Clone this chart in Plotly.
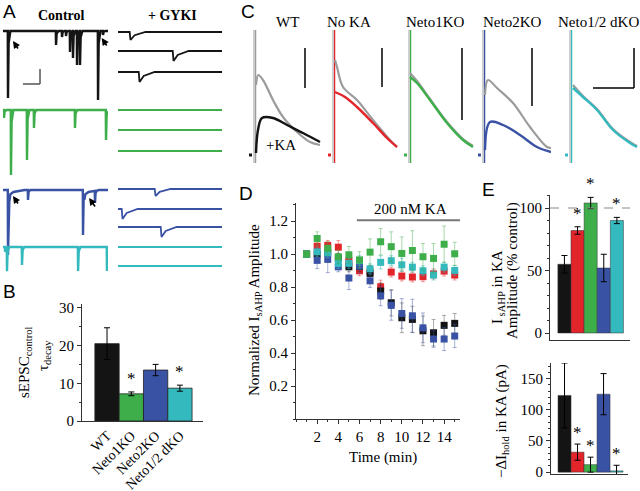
import numpy as np
import plotly.graph_objects as go

W, H = 640, 491
SERIF = "Liberation Serif"
SANS = "Liberation Sans"
BLACK, RED, GREEN, BLUE, CYAN, GRAY = "#141414", "#e2252b", "#3dae4a", "#3a52a3", "#34b9be", "#9c9c9c"

# ---------------- DATA ----------------
# Panel A: sEPSC sweeps, event times (s) and peak amplitudes (pA)
A_CTRL_COLORS = [BLACK, GREEN, BLUE, CYAN]
A_WT_T = [0.095, 1.01, 1.124, 1.2, 1.276, 1.333, 1.41, 1.467, 1.81, 1.905]
A_WT_AMP = [-134, -28, -12, -10, -42, -54, -68, -68, -138, -8]
A_N1_T = [0.019, 0.152, 0.457, 0.59, 1.371, 1.962]
A_N1_AMP = [-16, -130, -100, -36, -36, -60]
A_N2_T = [0.095, 0.476, 1.524, 1.752]
A_N2_AMP = [-130, -20, -90, -24]
A_N2_SLOW_T = [0.11, 1.54]
A_N2_SLOW_AMP = [-10, -10]
A_DKO_T = [0.04, 0.076, 0.362, 1.43, 1.98]
A_DKO_AMP = [-10, -48, -36, -48, -48]
A_GYKI_COLORS = [BLACK, BLACK, BLACK, GREEN, GREEN, GREEN, BLUE, BLUE, BLUE, CYAN, CYAN]
A_GYKI_EV_T = [0.23, 1.058, 0.404, None, None, None, 0.712, 0.077, 0.827, None, None]
A_GYKI_EV_AMP = [-16, -20, -20, 0, 0, 0, -14, -20, -20, 0, 0]

# Panel B
B_CATS = ["WT", "Neto1KO", "Neto2KO", "Neto1/2 dKO"]
B_VALS = [20.5, 7.2, 13.5, 8.7]
B_ERR = [4.2, 0.5, 1.5, 0.8]
B_SIG = [False, True, False, True]
B_COLORS = [BLACK, GREEN, BLUE, CYAN]

# Panel C: IsAHP traces (ms after stimulus, amplitude)
C_TITLES = ["WT", "No KA", "Neto1KO", "Neto2KO", "Neto1/2 dKO"]
C_COLORS = [BLACK, RED, GREEN, BLUE, CYAN]
C_CTRL_T = [[2, 4.3, 9, 19, 29, 43, 56, 66], [2, 4, 10, 24, 40, 57, 64], [1, 8, 21, 38, 54, 64],
            [2, 5, 14, 30, 47, 64, 68], [3, 13, 27, 43, 60, 67]]
C_CTRL_AMP = [[70, 80, 75, 55, 38, 23, 13, 10], [95, 88, 68, 55, 35, 15, 8], [82, 74, 56, 33, 16, 9],
              [60, 75, 67, 52, 28, 8, 7], [70, 59, 46, 26, 13, 9]]
C_KA_T = [[2, 4, 8, 19, 33, 49, 66], [2, 12, 24, 40, 54, 64], [1, 8, 21, 38, 54, 64],
          [2, 7, 20, 37, 54, 68], [3, 13, 27, 43, 60, 67]]
C_KA_AMP = [[2, 25, 37, 37, 30, 22, 13], [63, 58, 48, 32, 17, 8], [78, 72, 55, 32, 15, 8],
            [5, 33, 30, 20, 8, 3], [67, 58, 45, 25, 12, 8]]

# Panel D: normalized IsAHP amplitude over time
D_T = list(range(1, 16))
D_WT = [1.0, 1.0, 1.01, 0.975, 0.923, 0.925, 0.883, 0.776, 0.705, 0.614, 0.604, 0.535, 0.523, 0.568, 0.58]
D_WT_ERR = [0, 0.03, 0.03, 0.03, 0.03, 0.03, 0.04, 0.05, 0.08, 0.09, 0.08, 0.09, 0.08, 0.06, 0.06]
D_NOKA = [1.0, 1.048, 1.053, 1.042, 0.96, 0.899, 0.895, 0.802, 0.891, 0.867, 0.861, 0.863, 0.88, 0.897, 0.873]
D_NOKA_ERR = [0, 0.03, 0.03, 0.04, 0.04, 0.03, 0.03, 0.04, 0.03, 0.03, 0.03, 0.03, 0.03, 0.03, 0.03]
D_N1 = [1.0, 1.095, 1.035, 0.984, 0.996, 0.965, 1.012, 1.075, 1.045, 1.004, 1.022, 0.984, 0.974, 1.06, 1.002]
D_N1_ERR = [0, 0.04, 0.04, 0.04, 0.05, 0.05, 0.08, 0.08, 0.09, 0.1, 0.12, 0.08, 0.09, 0.11, 0.07]
D_N2 = [1.0, 0.962, 0.968, 0.923, 0.855, 0.927, 0.838, 0.747, 0.689, 0.64, 0.626, 0.553, 0.485, 0.485, 0.503]
D_N2_ERR = [0, 0.05, 0.08, 0.03, 0.07, 0.04, 0.04, 0.06, 0.09, 0.09, 0.1, 0.09, 0.05, 0.07, 0.07]
D_DKO = [1.0, 1.014, 1.008, 0.943, 0.944, 0.96, 0.911, 0.95, 0.96, 0.935, 0.921, 0.899, 0.873, 0.921, 0.901]
D_DKO_ERR = [0, 0.03, 0.03, 0.03, 0.03, 0.03, 0.03, 0.04, 0.03, 0.04, 0.03, 0.03, 0.03, 0.03, 0.03]
D_KA_START, D_KA_END = 5.75, 15.5

# Panel E
E_GROUPS = ["WT", "No KA", "Neto1KO", "Neto2KO", "Neto1/2 dKO"]
E_COLORS = [BLACK, RED, GREEN, BLUE, CYAN]
E_AMP = [55, 82, 104, 52, 90]
E_AMP_ERR = [7, 3, 4.5, 11, 2.5]
E_HOLD = [123, 32, 12, 125, 2]
E_HOLD_ERR = [52, 13, 12, 33, 9]
E_SIG = [False, True, True, False, True]

# ---------------- helpers ----------------
def xd(a, b): return [a / W, b / W]
def yd(top, bottom): return [1 - bottom / H, 1 - top / H]
def px(x): return x / W
def py(y): return 1 - y / H

FAST_DT, FAST_FR = [-0.004, 0.0, 0.012, 0.045], [0.0, 1.0, 0.18, 0.0]
SLOW_DT, SLOW_FR = [-0.006, 0.01, 0.09, 0.3], [0.0, 1.0, 0.4, 0.0]

def sweep(t_end, events):
    ts = {0.0, t_end}
    for t0, a, dt, fr in events:
        ts |= {t0 + d for d in dt}
    ts = sorted(t for t in ts if 0 <= t <= t_end)
    ys = [sum(a * np.interp(t - t0, dt, fr, left=0, right=0) for t0, a, dt, fr in events) for t in ts]
    return ts, ys

def label(x, y, text, size=15, family=SERIF, angle=0):
    return dict(x=px(x), y=py(y), xref="paper", yref="paper", text=text, showarrow=False,
                xanchor="center", yanchor="middle", textangle=angle,
                font=dict(family=family, size=size, color="black"))

fig = go.Figure()
layout = dict(width=W, height=H, margin=dict(l=0, r=0, t=0, b=0, autoexpand=False), paper_bgcolor="white",
              plot_bgcolor="rgba(0,0,0,0)", showlegend=False, template="none")
hid = dict(visible=False, showgrid=False, zeroline=False, fixedrange=True, automargin=False)
ax_common = dict(showgrid=False, zeroline=False, fixedrange=True, automargin=False, showline=True,
                 linecolor="#333", linewidth=1, tickcolor="#333")
shapes, ann = [], []

# ---- Panel A ----
layout["xaxis"] = dict(hid, domain=xd(3, 108), range=[0, 2], anchor="y")
layout["yaxis"] = dict(hid, domain=yd(0, 280), range=[-560, 0], anchor="x")
layout["xaxis2"] = dict(hid, domain=xd(118, 222), range=[0, 2], anchor="y2")
layout["yaxis2"] = dict(hid, domain=yd(0, 280), range=[-560, 0], anchor="x2")
A_CTRL_OFFSETS = [-62, -220, -380, -494]
ctrl_events = [
    [(t, a, FAST_DT, FAST_FR) for t, a in zip(A_WT_T, A_WT_AMP)],
    [(t, a, FAST_DT, FAST_FR) for t, a in zip(A_N1_T, A_N1_AMP)],
    [(t, a, FAST_DT, FAST_FR) for t, a in zip(A_N2_T, A_N2_AMP)]
    + [(t, a, SLOW_DT, SLOW_FR) for t, a in zip(A_N2_SLOW_T, A_N2_SLOW_AMP)],
    [(t, a, FAST_DT, FAST_FR) for t, a in zip(A_DKO_T, A_DKO_AMP)],
]
for evs, off, col in zip(ctrl_events, A_CTRL_OFFSETS, A_CTRL_COLORS):
    ts, ys = sweep(2.0, evs)
    fig.add_trace(go.Scatter(x=ts, y=[v + off for v in ys], mode="lines", line=dict(color=col, width=2.4),
                             xaxis="x", yaxis="y", hoverinfo="skip"))
A_GYKI_OFFSETS = [-64, -102, -144, -220, -260, -302, -378, -418, -454, -494, -532]
for t0, a, off, col in zip(A_GYKI_EV_T, A_GYKI_EV_AMP, A_GYKI_OFFSETS, A_GYKI_COLORS):
    evs = [] if t0 is None else [(t0, a, SLOW_DT, SLOW_FR)]
    ts, ys = sweep(2.0, evs)
    fig.add_trace(go.Scatter(x=ts, y=[v + off for v in ys], mode="lines", line=dict(color=col, width=1.8),
                             xaxis="x2", yaxis="y2", hoverinfo="skip"))
for (tx, ty, dxp, dyp) in [(0.19, -82, 6, 9), (1.88, -76, 6, 9), (0.19, -392, 6, 9), (1.64, -396, 7, 10)]:
    ann.append(dict(x=tx, y=ty, xref="x", yref="y", ax=dxp, ay=dyp, text="", showarrow=True,
                    arrowhead=2, arrowsize=0.9, arrowwidth=1.6, arrowcolor="black"))
shapes.append(dict(type="line", xref="x", yref="y", x0=0.705, x1=0.705, y0=-138, y1=-168, line=dict(color="#555", width=1.5)))
shapes.append(dict(type="line", xref="x", yref="y", x0=0.38, x1=0.705, y0=-168, y1=-168, line=dict(color="#555", width=1.5)))
ann.append(label(61, 16, "<b>Control</b>", 14))
ann.append(label(172, 16, "<b>+ GYKI</b>", 14))

# ---- Panel B ----
tickf = dict(family=SERIF, size=15, color="black")
layout["xaxis3"] = dict(ax_common, domain=xd(82, 203), range=[-1.03, 3.95], anchor="y3",
                        tickvals=list(range(len(B_CATS))), ticktext=B_CATS, tickangle=-45,
                        ticks="", tickfont=dict(family=SERIF, size=14, color="black"))
layout["yaxis3"] = dict(ax_common, domain=yd(304, 421), range=[0, 31], anchor="x3",
                        tickvals=[0, 10, 20, 30], ticks="outside", ticklen=4,
                        minor=dict(dtick=5, ticks="outside", ticklen=2, tickcolor="#333"), tickfont=tickf)
fig.add_trace(go.Bar(x=list(range(len(B_CATS))), y=B_VALS, width=1, marker=dict(color=B_COLORS, line=dict(color="#222", width=0.8)),
                     error_y=dict(type="data", array=B_ERR, color="black", thickness=1, width=3),
                     xaxis="x3", yaxis="y3", hoverinfo="skip"))
for i, (v, e, s) in enumerate(zip(B_VALS, B_ERR, B_SIG)):
    if s:
        ann.append(dict(x=i, y=v + e, xref="x3", yref="y3", text="*", showarrow=False, xanchor="center",
                        yanchor="bottom", yshift=2, font=dict(family=SERIF, size=17, color="black")))
ann.append(label(25, 362, "sEPSC<sub>control</sub>", 15, angle=-90))
ann.append(label(44, 356, "τ<sub>decay</sub>", 15, angle=-90))

# ---- Panel C ----
C_DOMAINS = [(248, 322), (327, 401), (403, 477), (477, 551), (564, 638)]
C_BAR_T = [51, 49, 53, 49, 64]
C_BAR_LO = [67, 68, 35, 49, 67]
C_CENTERS = [287, 349, 435, 512, 598]
for k in range(5):
    n = k + 4
    xa, ya = f"x{n}", f"y{n}"
    layout[f"xaxis{n}"] = dict(hid, domain=xd(*C_DOMAINS[k]), range=[-6, 68], anchor=ya)
    layout[f"yaxis{n}"] = dict(hid, domain=yd(25, 165), range=[-10, 130], anchor=xa)
    col = C_COLORS[k]
    art_col = GRAY if k == 0 else col
    fig.add_trace(go.Scatter(x=[0, 0], y=[-8, 125], mode="lines", line=dict(color="#b5b5b5", width=1.3),
                             xaxis=xa, yaxis=ya, hoverinfo="skip"))
    fig.add_trace(go.Scatter(x=[1.6, 1.6], y=[-8, 125], mode="lines", line=dict(color=art_col, width=1.3),
                             xaxis=xa, yaxis=ya, hoverinfo="skip"))
    fig.add_trace(go.Scatter(x=C_CTRL_T[k], y=C_CTRL_AMP[k], mode="lines", line=dict(color=GRAY, width=2.2, shape="spline"),
                             xaxis=xa, yaxis=ya, hoverinfo="skip"))
    fig.add_trace(go.Scatter(x=C_KA_T[k], y=C_KA_AMP[k], mode="lines", line=dict(color=col, width=2.4, shape="spline"),
                             xaxis=xa, yaxis=ya, hoverinfo="skip"))
    fig.add_trace(go.Scatter(x=[-5, -2], y=[0, 0], mode="lines", line=dict(color=col, width=3),
                             xaxis=xa, yaxis=ya, hoverinfo="skip"))
    shapes.append(dict(type="line", xref=xa, yref=ya, x0=C_BAR_T[k], x1=C_BAR_T[k], y0=C_BAR_LO[k], y1=107,
                       line=dict(color="black", width=1.5)))
    ann.append(label(C_CENTERS[k], 22, C_TITLES[k], 15))
shapes.append(dict(type="line", xref="x8", yref="y8", x0=23, x1=64, y0=67, y1=67, line=dict(color="black", width=1.5)))
ann.append(label(281, 145, "+KA", 15))

# ---- Panel D ----
layout["xaxis9"] = dict(ax_common, domain=xd(296, 460), range=[0, 15.5], anchor="y9",
                        tickvals=list(range(2, 15, 2)), ticks="outside", ticklen=4,
                        minor=dict(dtick=1, ticks="outside", ticklen=2, tickcolor="#333"), tickfont=tickf)
layout["yaxis9"] = dict(ax_common, domain=yd(203, 419), range=[0, 1.31], anchor="x9",
                        tickvals=[0.2, 0.4, 0.6, 0.8, 1.0, 1.2], ticktext=["0.2", "0.4", "0.6", "0.8", "1.0", "1.2"],
                        ticks="outside", ticklen=4,
                        minor=dict(dtick=0.1, ticks="outside", ticklen=2, tickcolor="#333"), tickfont=tickf)
ERRC = {RED: "rgba(226,37,43,0.45)", BLACK: "rgba(20,20,20,0.35)", BLUE: "rgba(58,82,163,0.45)",
        CYAN: "rgba(52,185,190,0.5)", GREEN: "rgba(61,174,74,0.45)"}
for vals, errs, col in [(D_NOKA, D_NOKA_ERR, RED), (D_WT, D_WT_ERR, BLACK), (D_N2, D_N2_ERR, BLUE),
                        (D_DKO, D_DKO_ERR, CYAN), (D_N1, D_N1_ERR, GREEN)]:
    fig.add_trace(go.Scatter(x=D_T, y=vals, mode="markers", marker=dict(symbol="square", size=7, color=col),
                             error_y=dict(type="data", array=errs, color=ERRC[col], thickness=1, width=2),
                             xaxis="x9", yaxis="y9", hoverinfo="skip"))
shapes.append(dict(type="line", xref="x9", yref="y9", x0=D_KA_START, x1=D_KA_END, y0=1.206, y1=1.206,
                   line=dict(color="#777", width=2)))
ann.append(dict(x=10.8, y=1.206, xref="x9", yref="y9", text="200 nM KA", showarrow=False, xanchor="center",
                yanchor="bottom", yshift=1, font=dict(family=SERIF, size=15, color="black")))
ann.append(label(255, 310, "Normalized I<sub>sAHP</sub> Amplitude", 15, angle=-90))
ann.append(label(383, 457, "Time (min)", 15))

# ---- Panel E ----
layout["xaxis10"] = dict(ax_common, domain=xd(550, 630), range=[-1.1, 5.0], anchor="y10",
                         showticklabels=False, ticks="")
layout["yaxis10"] = dict(ax_common, domain=yd(195, 340), range=[-5.6, 110.4], anchor="x10",
                         tickvals=[0, 50, 100], ticks="outside", ticklen=4,
                         minor=dict(dtick=10, ticks="outside", ticklen=2, tickcolor="#333"), tickfont=tickf)
layout["xaxis11"] = dict(ax_common, domain=xd(551, 628), range=[-1.04, 4.88], anchor="y11",
                         showticklabels=False, ticks="")
layout["yaxis11"] = dict(ax_common, domain=yd(363, 474), range=[-3, 175], anchor="x11",
                         tickvals=[0, 50, 100, 150], ticks="outside", ticklen=4,
                         minor=dict(dtick=10, ticks="outside", ticklen=2, tickcolor="#333"), tickfont=tickf)
xs = list(range(len(E_GROUPS)))
fig.add_trace(go.Bar(x=xs, y=E_AMP, width=1, marker=dict(color=E_COLORS, line=dict(color="#333", width=0.5)),
                     error_y=dict(type="data", array=E_AMP_ERR, color="black", thickness=1, width=3),
                     xaxis="x10", yaxis="y10", hoverinfo="skip"))
fig.add_trace(go.Bar(x=xs, y=E_HOLD, width=1, marker=dict(color=E_COLORS, line=dict(color="#333", width=0.5)),
                     error_y=dict(type="data", array=E_HOLD_ERR, color="black", thickness=1, width=3),
                     xaxis="x11", yaxis="y11", hoverinfo="skip"))
shapes.append(dict(type="line", xref="x10", yref="y10", x0=-1.1, x1=5.0, y0=100, y1=100,
                   line=dict(color="#888", width=1, dash="dash")))
for i in xs:
    if E_SIG[i]:
        ann.append(dict(x=i, y=E_AMP[i] + E_AMP_ERR[i], xref="x10", yref="y10", text="*", showarrow=False,
                        xanchor="center", yanchor="bottom", yshift=2, font=dict(family=SERIF, size=17, color="black")))
        ann.append(dict(x=i, y=E_HOLD[i] + E_HOLD_ERR[i], xref="x11", yref="y11", text="*", showarrow=False,
                        xanchor="center", yanchor="bottom", yshift=0, font=dict(family=SERIF, size=17, color="black")))
ann.append(label(498, 287, "I<sub> sAHP</sub> in KA", 15, angle=-90))
ann.append(label(512, 271, "Amplitude (% control)", 15, angle=-90))
ann.append(label(502, 421, "−ΔI<sub>hold</sub> in KA (pA)", 15, angle=-90))

# ---- Panel letters ----
for lab, (lx, ly) in zip("ABCDE", [(9, 11), (9, 291), (248, 12), (246, 193), (488, 190)]):
    ann.append(label(lx, ly, lab, 19, family=SANS))

layout["shapes"] = shapes
layout["annotations"] = ann
fig.update_layout(**layout)
fig.write_html("out.html", config={"displayModeBar": False, "staticPlot": True},
               post_script="document.body.style.margin='0';document.body.style.overflow='hidden';")
